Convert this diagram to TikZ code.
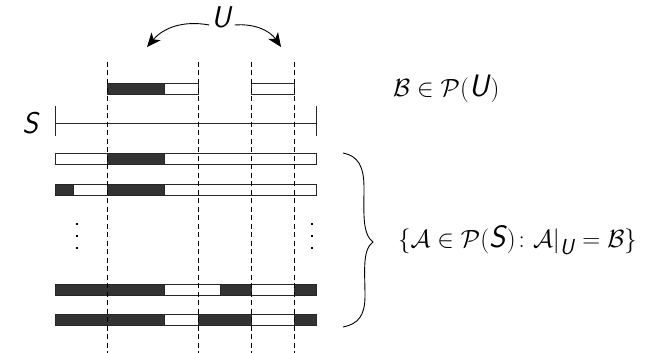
\documentclass[tikz,border=0pt]{standalone}
\usepackage{amsmath}
\usetikzlibrary{arrows.meta}
\definecolor{segdark}{HTML}{333333}
\newcommand{\sfit}[1]{\textsf{\itshape #1}}
\begin{document}
\begin{tikzpicture}[x=1pt,y=-1pt,
  blk/.style={fill=segdark,draw=black!85,line width=0.8pt},
  wht/.style={fill=white,draw=black!85,line width=0.8pt},
  guide/.style={draw=black,line width=0.7pt,dash pattern=on 5pt off 3.5pt},
  lbl/.style={font=\fontsize{30}{36}\selectfont,inner sep=0pt},
  mlbl/.style={font=\fontsize{31}{37}\selectfont,inner sep=0pt},
  uarrow/.style={line width=0.9pt,-{Stealth[length=14pt,width=12pt,inset=4pt]}},
  dotm/.style={fill=black,inner sep=0pt,minimum width=2pt,minimum height=1.5pt}]
\useasboundingbox (0,0) rectangle (656,353);
% B row
\draw[blk] (107,83) rectangle (164,94);
\draw[wht] (164,83) rectangle (198,94);
\draw[wht] (251,83) rectangle (294,94);
% S line
\draw[black!85,line width=0.8pt] (55,106) -- (55,136);
\draw[black!85,line width=0.8pt] (316,106) -- (316,136);
\draw[black!85,line width=0.8pt] (55,123) -- (316,123);
% row 1
\draw[wht] (55,153) rectangle (107,164);
\draw[blk] (107,153) rectangle (164,164);
\draw[wht] (164,153) rectangle (316,164);
% row 2
\draw[blk] (55,184) rectangle (73,195);
\draw[wht] (73,184) rectangle (107,195);
\draw[blk] (107,184) rectangle (164,195);
\draw[wht] (164,184) rectangle (316,195);
% row 3
\draw[blk] (55,284) rectangle (164,295);
\draw[wht] (164,284) rectangle (220,295);
\draw[blk] (220,284) rectangle (251,295);
\draw[wht] (251,284) rectangle (294,295);
\draw[blk] (294,284) rectangle (316,295);
% row 4
\draw[blk] (55,314) rectangle (164,325);
\draw[wht] (164,314) rectangle (198,325);
\draw[blk] (198,314) rectangle (251,325);
\draw[wht] (251,314) rectangle (294,325);
\draw[blk] (294,314) rectangle (316,325);
% dashed guides
\foreach \x in {107,198,251,294} \draw[guide] (\x,62) -- (\x,353);
% vertical dots
\foreach \y in {224,236,248} {
  \node[dotm] (dl\y) at (77,\y) {};
  \node[dotm] (dr\y) at (312,\y) {};
}
% labels
\node[lbl] (U) at (222,17) {\sfit{U}};
\coordinate (aL) at (147,47);
\coordinate (aR) at (281,47);
\draw[uarrow] ([xshift=-2pt,yshift=-8pt]U.west) to[bend right=30] (aL);
\draw[uarrow] ([xshift=2pt,yshift=-8pt]U.east) to[bend left=30] (aR);
\node[lbl] (S) at (31,123) {\sfit{S}};
\node[mlbl,anchor=west] (B) at (393,89) {$\mathcal{B}\in\mathcal{P}(\text{\sfit{U}})$};
% brace
\coordinate (bt) at (343,153);
\coordinate (btip) at (373,242);
\coordinate (bb) at (343,327);
\draw[line width=0.9pt] (bt) .. controls (358,156) and (364,166) .. (364,188)
  .. controls (364,212) and (362,234) .. (btip)
  .. controls (362,250) and (365,272) .. (365,296)
  .. controls (365,316) and (358,324) .. (bb);
\node[mlbl,anchor=west] (set) at (398,240) {$\{\mathcal{A}\in\mathcal{P}(\text{\sfit{S}})\colon \mathcal{A}|_{\text{\sfit{U}}}=\mathcal{B}\}$};
\end{tikzpicture}
\end{document}
